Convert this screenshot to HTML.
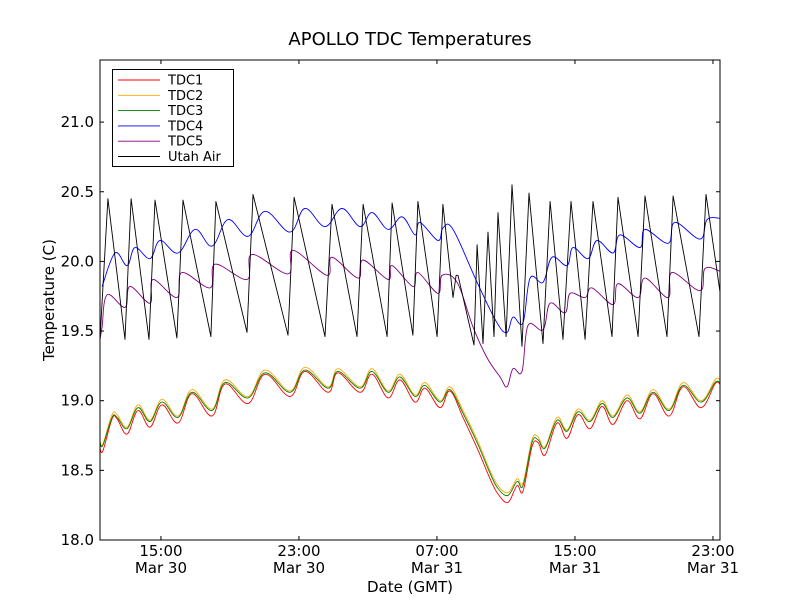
<!DOCTYPE html>
<html><head><meta charset="utf-8"><style>
body{margin:0;background:#fff;}
svg{display:block;font-family:"DejaVu Sans","Liberation Sans",sans-serif;}
</style></head><body>
<svg id="chart" width="800" height="600">
<rect width="800" height="600" fill="#fff"/>
<text x="410" y="45" font-size="18" text-anchor="middle">APOLLO TDC Temperatures</text>
<text transform="translate(54,300) rotate(-90)" font-size="15" text-anchor="middle">Temperature (C)</text>
<text x="410" y="592" font-size="15" text-anchor="middle">Date (GMT)</text>
<g id="series"></g>
<g id="axes"></g>
<rect x="100" y="60" width="620" height="480" fill="none" stroke="#000" stroke-width="1"/>
<g id="legend"></g>
</svg>
<script>
// hours since 11:28 Mar 30
const tLower=[0,0.17,0.70,0.99,1.57,2.20,2.90,3.59,4.52,5.33,6.49,7.25,8.58,9.57,11.01,11.88,13.22,13.80,15.07,15.77,16.70,17.39,18.26,18.84,19.71,20.29,21.04,21.86,22.61,23.07,23.65,24.17,24.52,25.04,25.39,25.80,26.49,27.07,27.71,28.41,29.10,29.74,30.55,31.30,32.06,32.99,33.80,34.84,35.65,35.94];
const tdc1=[18.66,18.64,18.87,18.87,18.76,18.93,18.81,18.97,18.84,19.05,18.89,19.12,18.98,19.19,19.03,19.21,19.06,19.20,19.06,19.19,19.02,19.15,18.99,19.09,18.95,19.07,18.88,18.66,18.44,18.33,18.27,18.39,18.35,18.67,18.70,18.61,18.84,18.73,18.90,18.80,18.96,18.83,19.00,18.87,19.05,18.89,19.10,18.95,19.12,19.12];
const tdc2=[18.71,18.69,18.90,18.90,18.81,18.97,18.86,19.01,18.89,19.08,18.94,19.15,19.03,19.22,19.07,19.24,19.10,19.23,19.10,19.23,19.07,19.19,19.04,19.13,19.00,19.10,18.93,18.72,18.50,18.39,18.34,18.44,18.41,18.72,18.74,18.67,18.88,18.79,18.94,18.86,19.00,18.89,19.04,18.92,19.08,18.94,19.13,19.00,19.15,19.15];
const tdc3=[18.70,18.68,18.88,18.88,18.80,18.95,18.85,18.99,18.88,19.06,18.93,19.13,19.02,19.20,19.06,19.22,19.09,19.21,19.09,19.21,19.06,19.17,19.03,19.11,18.99,19.08,18.91,18.70,18.48,18.37,18.32,18.42,18.39,18.70,18.72,18.66,18.86,18.78,18.92,18.85,18.98,18.88,19.02,18.91,19.06,18.93,19.11,18.99,19.13,19.13];
const t4=[0.12,0.87,1.57,2.03,2.90,3.48,4.52,5.51,6.49,7.42,8.58,9.57,11.01,11.88,13.04,14.03,15.07,15.77,16.70,17.51,18.26,18.55,19.59,19.88,20.46,21.86,23.01,23.59,23.94,24.52,24.93,25.68,26.20,27.07,27.42,28.29,28.81,29.74,30.14,31.30,31.59,32.93,33.33,34.78,35.19,35.94];
const tdc4=[19.82,20.06,19.97,20.10,20.02,20.15,20.06,20.23,20.11,20.30,20.18,20.36,20.21,20.38,20.25,20.38,20.25,20.35,20.23,20.32,20.19,20.28,20.15,20.24,20.23,19.85,19.56,19.49,19.60,19.56,19.88,19.85,20.03,19.97,20.10,20.02,20.15,20.06,20.19,20.10,20.23,20.13,20.28,20.16,20.30,20.31];
const t5=[0,0.12,0.41,1.45,1.74,2.90,3.07,4.46,4.75,6.38,6.67,8.52,8.81,10.90,11.19,13.16,13.45,14.96,15.25,16.70,16.93,18.14,18.43,19.59,19.83,20.70,21.62,22.43,23.19,23.59,23.94,24.46,24.81,25.68,26.09,26.96,27.25,28.12,28.52,29.74,30.03,31.19,31.59,32.93,33.16,34.78,35.07,35.94];
const tdc5=[19.44,19.53,19.76,19.67,19.82,19.70,19.87,19.74,19.92,19.81,19.98,19.87,20.05,19.91,20.08,19.90,20.03,19.88,20.01,19.87,19.97,19.82,19.92,19.77,19.90,19.85,19.53,19.31,19.17,19.10,19.23,19.21,19.54,19.51,19.70,19.63,19.77,19.74,19.81,19.69,19.84,19.74,19.88,19.74,19.92,19.79,19.95,19.93];
const tAir=[0,0.46,1.45,1.80,2.84,3.19,4.46,4.81,6.43,6.72,8.52,8.87,10.90,11.25,13.04,13.45,14.90,15.25,16.64,16.93,18.14,18.43,19.54,19.88,20.46,20.64,20.75,21.68,21.86,22.20,22.49,22.84,23.07,23.54,23.88,24.46,24.87,25.68,26.09,26.84,27.30,28.12,28.58,29.68,30.03,31.19,31.59,32.87,33.22,34.72,35.13,35.94];
const utahAir=[19.44,20.45,19.44,20.45,19.44,20.44,19.45,20.44,19.46,20.43,19.49,20.48,19.47,20.46,19.46,20.41,19.46,20.41,19.46,20.42,19.47,20.43,19.46,20.41,19.74,19.90,19.90,19.40,20.12,19.41,20.21,19.46,20.35,19.46,20.55,19.39,20.49,19.41,20.43,19.44,20.43,19.44,20.43,19.46,20.46,19.46,20.47,19.46,20.47,19.46,20.48,19.78];
const yTicks=[18.0,18.5,19.0,19.5,20.0,20.5,21.0];
const xTicks=[3.533,11.533,19.533,27.533,35.533];
const xTickTimes=["15:00","23:00","07:00","15:00","23:00"];
const xTickDates=["Mar 30","Mar 30","Mar 31","Mar 31","Mar 31"];
const legendNames=["TDC1","TDC2","TDC3","TDC4","TDC5","Utah Air"];
const colors=["#ff0000","#ffa500","#008000","#0000ff","#800080","#000000"];

const X=h=>100+h*(620/35.94);
const Y=v=>540-(v-18)*139.3;
const NS="http://www.w3.org/2000/svg";
function mk(tag,attrs,parent){const e=document.createElementNS(NS,tag);for(const k in attrs)e.setAttribute(k,attrs[k]);parent.appendChild(e);return e;}
function smoothPath(P){
  let d='M'+P[0][0].toFixed(1)+','+P[0][1].toFixed(1);
  for(let i=0;i<P.length-1;i++){
    const p0=P[i-1]||P[i],p1=P[i],p2=P[i+1],p3=P[i+2]||P[i+1];
    const k=0.18;
    const c1=[p1[0]+(p2[0]-p0[0])*k,p1[1]+(p2[1]-p0[1])*k];
    const c2=[p2[0]-(p3[0]-p1[0])*k,p2[1]-(p3[1]-p1[1])*k];
    d+='C'+c1[0].toFixed(1)+','+c1[1].toFixed(1)+' '+c2[0].toFixed(1)+','+c2[1].toFixed(1)+' '+p2[0].toFixed(1)+','+p2[1].toFixed(1);
  }
  return d;
}
const sg=document.getElementById('series');
const series=[[tLower,tdc1],[tLower,tdc2],[tLower,tdc3],[t4,tdc4],[t5,tdc5],[tAir,utahAir]];
series.forEach((s,i)=>{
  const P=s[0].map((t,j)=>[X(t),Y(s[1][j])]);
  const d=i<5?smoothPath(P):P.map((p,j)=>(j?'L':'M')+p[0].toFixed(1)+','+p[1].toFixed(1)).join('');
  const p=mk('path',{d:d,fill:'none',stroke:colors[i],'stroke-width':0.9,'stroke-linejoin':'round'},sg);
  
  
});
const ax=document.getElementById('axes');
yTicks.forEach(v=>{
  const y=Y(v);
  const a=mk('line',{x1:100,x2:104,y1:y,y2:y,stroke:'#000'},ax);
  
  
  const b=mk('line',{x1:716,x2:720,y1:y,y2:y,stroke:'#000'},ax);
  
  
  const t=mk('text',{x:94,y:y+5,'font-size':15,'text-anchor':'end'},ax);
  t.textContent=v.toFixed(1);
  
  
});
xTicks.forEach((h,i)=>{
  const x=X(h);
  const a=mk('line',{x1:x,x2:x,y1:536,y2:540,stroke:'#000'},ax);
  
  
  const b=mk('line',{x1:x,x2:x,y1:60,y2:64,stroke:'#000'},ax);
  
  
  const t1=mk('text',{x:x,y:556,'font-size':15,'text-anchor':'middle'},ax);
  t1.textContent=xTickTimes[i];
  
  
  const t2=mk('text',{x:x,y:573,'font-size':15,'text-anchor':'middle'},ax);
  t2.textContent=xTickDates[i];
  
  
});
const lg=document.getElementById('legend');
const box=mk('rect',{x:112.5,y:69.5,width:121,height:97,fill:'#fff',stroke:'#000'},lg);


legendNames.forEach((n,i)=>{
  const y=80+i*15.3;
  const l=mk('line',{x1:118,x2:160,y1:y,y2:y,stroke:colors[i],'stroke-width':0.9},lg);
  
  
  const t=mk('text',{x:168,y:y+4.5,'font-size':13},lg);
  t.textContent=n;
  
  
});
</script>
</body></html>
